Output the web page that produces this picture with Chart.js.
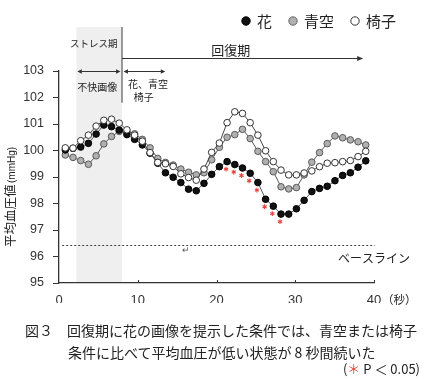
<!DOCTYPE html>
<html lang="ja"><head><meta charset="utf-8">
<script src="https://cdn.jsdelivr.net/npm/chart.js@4.4.1/dist/chart.umd.min.js"></script>
<style>
html,body{margin:0;padding:0;background:#fff;}
#wrap{position:relative;width:427px;height:381px;overflow:hidden;}
#c{position:absolute;left:0;top:0;}
.cap{position:absolute;font-family:"Noto Sans CJK JP";color:#222;white-space:nowrap;}
</style></head><body>
<div id="wrap">
<canvas id="c" width="427" height="381"></canvas>
<div class="cap" style="left:25px;top:320px;font-size:14px;line-height:20px;">図３　回復期に花の画像を提示した条件では、青空または椅子</div>
<div class="cap" style="left:68px;top:342px;font-size:14px;line-height:20px;">条件に比べて平均血圧が低い状態が 8 秒間続いた</div>
<div class="cap" style="right:7px;top:361px;font-size:13px;line-height:16px;">(<span style="color:#e8403a">＊</span> P ＜ 0.05)</div>
</div>
<script>
// ---- data ----
const seconds = [1,2,3,4,5,6,7,8,9,10,11,12,13,14,15,16,17,18,19,20,21,22,23,24,25,26,27,28,29,30,31,32,33,34,35,36,37,38,39,40];
const hana   = [100.02,100.08,100.13,100.27,100.62,100.96,100.90,100.77,100.60,100.42,100.21,99.90,99.52,99.16,98.99,98.79,98.54,98.48,98.76,99.10,99.39,99.58,99.47,99.34,99.14,98.79,98.16,97.90,97.60,97.60,97.80,98.12,98.45,98.57,98.65,98.86,99.06,99.16,99.37,99.61];
const aozora = [99.83,99.74,99.62,99.48,99.80,100.25,100.53,100.72,100.70,100.63,100.42,100.10,99.70,99.55,99.45,99.30,99.18,99.08,99.16,99.65,100.12,100.50,100.60,100.80,100.45,99.97,99.58,99.20,98.63,98.55,98.60,99.08,99.56,99.92,100.26,100.55,100.48,100.40,100.33,100.21];
const isu    = [100.10,100.09,100.37,100.58,100.92,101.14,101.18,101.03,100.78,100.58,100.35,99.92,99.55,99.50,99.40,99.12,98.98,98.88,99.30,99.93,100.28,101.05,101.46,101.40,101.05,100.58,99.99,99.58,99.26,99.08,99.08,99.15,99.23,99.39,99.52,99.54,99.58,99.62,99.77,99.97];
const significantIdx = [21,22,23,24,25,26,27,28];
const seriesLabels = ['花','青空','椅子'];
const xTicks = [0,10,20,30,40];
const yTicks = [95,96,97,98,99,100,101,102,103];
const baseline = 96.45;
const stressWindow = [2.2, 8];
const flowerWindowEnd = 13.5;
const recoveryEnd = 38.5;

const CJK = '"Noto Sans CJK JP", "Noto Sans", sans-serif';
const NUM = '"Liberation Sans", Arial, sans-serif';

function pts(arr){ return seconds.map((s,i)=>({x:s,y:arr[i]})); }

function arrowHead(ctx,x,y,dir,len,half){
  ctx.beginPath();
  ctx.moveTo(x,y);
  ctx.lineTo(x-dir*len,y-half);
  ctx.lineTo(x-dir*len,y+half);
  ctx.closePath();ctx.fill();
}

const decor = {
  id:'decor',
  beforeDatasetsDraw(chart){
    const ctx=chart.ctx, a=chart.chartArea, X=v=>chart.scales.x.getPixelForValue(v), Y=v=>chart.scales.y.getPixelForValue(v);
    ctx.save();
    ctx.fillStyle='#efefef';
    ctx.fillRect(X(stressWindow[0]),27,X(stressWindow[1])-X(stressWindow[0]),a.bottom-27-1);
    ctx.strokeStyle='#808080';ctx.lineWidth=1.6;
    ctx.beginPath();ctx.moveTo(X(stressWindow[1]),27);ctx.lineTo(X(stressWindow[1]),Y(101.8));ctx.stroke();
    ctx.strokeStyle='#444';ctx.lineWidth=1;ctx.setLineDash([2,2]);
    ctx.beginPath();ctx.moveTo(X(0.4),Math.round(Y(baseline))+0.5);ctx.lineTo(X(40.1),Math.round(Y(baseline))+0.5);ctx.stroke();
    ctx.setLineDash([]);
    ctx.strokeStyle='#333';ctx.lineWidth=1;
    xTicks.slice(1).forEach(t=>{ctx.beginPath();ctx.moveTo(Math.round(X(t))+0.5,a.bottom);ctx.lineTo(Math.round(X(t))+0.5,a.bottom-3);ctx.stroke();});
    ctx.strokeStyle='#333';ctx.fillStyle='#333';ctx.lineWidth=1;
    const ry=58.5;
    ctx.beginPath();ctx.moveTo(X(stressWindow[1]),ry);ctx.lineTo(X(recoveryEnd)-3,ry);ctx.stroke();
    arrowHead(ctx,X(recoveryEnd)+1,ry,1,6,2.6);
    const dy=Y(103)+0.5;
    const dbl=(x1,x2)=>{ctx.beginPath();ctx.moveTo(x1+2,dy);ctx.lineTo(x2-2,dy);ctx.stroke();arrowHead(ctx,x1,dy,-1,4.5,2.2);arrowHead(ctx,x2,dy,1,4.5,2.2);};
    dbl(X(stressWindow[0])+1,X(stressWindow[1])-1.5);
    dbl(X(stressWindow[1])+1.5,X(flowerWindowEnd));
    ctx.fillStyle='#222';ctx.textAlign='center';ctx.textBaseline='middle';
    ctx.font='9.5px '+CJK;ctx.fillText('ストレス期',X(4.4),43);
    ctx.font='13px '+CJK;ctx.fillText('回復期',X(21.8),50);
    ctx.font='10px '+CJK;
    ctx.fillText('不快画像',X(4.85),87.5);
    ctx.fillText('花、青空',X(11.3),84.5);
    ctx.fillText('椅子',X(10.75),97);
    ctx.textAlign='right';ctx.font='12px '+CJK;ctx.fillText('ベースライン',410,258);
    ctx.textAlign='center';ctx.font='9px '+NUM;ctx.fillStyle='#555';ctx.fillText('↵',X(16.1),251);
    ctx.fillStyle='#222';ctx.textAlign='left';ctx.font='11.5px '+CJK;ctx.fillText('（秒）',382,300);
    ctx.save();ctx.translate(10.5,247);ctx.rotate(-Math.PI/2);
    ctx.textAlign='left';ctx.textBaseline='middle';ctx.font='12.5px '+CJK;
    ctx.fillText('平均血圧値',0,0);
    const w=ctx.measureText('平均血圧値').width;
    ctx.font='10px '+NUM;ctx.fillText('(mmHg)',w+1.5,2);
    ctx.restore();
    const items=[[246,257,'#111','#000'],[293,304,'#b0b0b0','#666'],[355,366,'#fff','#333']];
    ctx.font='15px '+CJK;ctx.textAlign='left';ctx.textBaseline='middle';
    items.forEach((it,i)=>{
      ctx.beginPath();ctx.arc(it[0],21,4.2,0,Math.PI*2);ctx.fillStyle=it[2];ctx.fill();ctx.strokeStyle=it[3];ctx.lineWidth=1;ctx.stroke();
      ctx.fillStyle='#222';ctx.fillText(seriesLabels[i],it[1],21);
    });
    ctx.restore();
  },
  afterDatasetsDraw(chart){
    const ctx=chart.ctx, meta=chart.getDatasetMeta(0);
    ctx.save();ctx.strokeStyle='#e8403a';ctx.lineWidth=1.1;
    significantIdx.forEach(i=>{
      const p=meta.data[i]; const cx=p.x-1, cy=p.y+7.5, r=2.4;
      for(let k=0;k<3;k++){const an=Math.PI/2+k*Math.PI/3;ctx.beginPath();ctx.moveTo(cx-r*Math.cos(an),cy-r*Math.sin(an));ctx.lineTo(cx+r*Math.cos(an),cy+r*Math.sin(an));ctx.stroke();}
    });
    ctx.restore();
  }
};

function draw(){
new Chart(document.getElementById('c'),{
  type:'line',
  data:{datasets:[
    {label:seriesLabels[0],data:pts(hana),xAxisID:'xd',borderColor:'#4d5270',borderWidth:1,pointRadius:3.3,pointBackgroundColor:'#111',pointBorderColor:'#000',pointBorderWidth:1,order:2,tension:0},
    {label:seriesLabels[1],data:pts(aozora),xAxisID:'xd',borderColor:'#555',borderWidth:1,pointRadius:3.3,pointBackgroundColor:'#b0b0b0',pointBorderColor:'#5a5a5a',pointBorderWidth:1,order:3,tension:0},
    {label:seriesLabels[2],data:pts(isu),xAxisID:'xd',borderColor:'#444',borderWidth:1,pointRadius:3.3,pointBackgroundColor:'#fff',pointBorderColor:'#333',pointBorderWidth:1,order:1,tension:0}
  ]},
  options:{
    responsive:false,animation:false,
    layout:{padding:{left:0,top:71,right:53,bottom:78}},
    plugins:{legend:{display:false},tooltip:{enabled:false}},
    scales:{
      x:{type:'linear',position:'bottom',min:xTicks[0],max:xTicks[xTicks.length-1],
        afterFit:s=>{s.height=20;},
        ticks:{stepSize:10,font:{family:NUM,size:13},color:'#333',padding:10,autoSkip:false,maxRotation:0},
        grid:{drawOnChartArea:false,drawTicks:false},border:{display:true,color:'#333',width:1.3}},
      xd:{type:'linear',display:false,min:0.183,max:41.07},
      y:{min:yTicks[0],max:yTicks[yTicks.length-1],
        afterFit:s=>{s.width=59;},
        ticks:{stepSize:1,font:{family:NUM,size:12.5},color:'#333',padding:9},
        grid:{drawOnChartArea:false,tickLength:6,tickColor:'#333',tickWidth:1},
        border:{display:true,color:'#333',width:1.3}}
    }
  },
  plugins:[decor]
});
}
(document.fonts?document.fonts.load('12px "Noto Sans CJK JP"'):Promise.resolve()).then(draw,draw);
</script>
</body></html>
